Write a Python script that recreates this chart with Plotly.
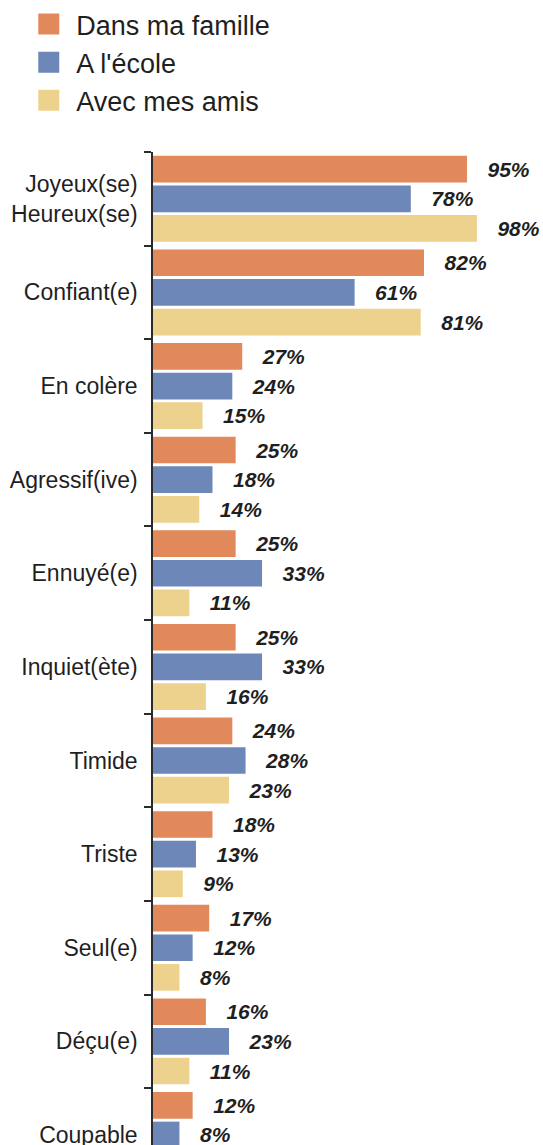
import plotly.graph_objects as go

categories = ["Joyeux(se)<br>Heureux(se)", "Confiant(e)", "En colère", "Agressif(ive)",
              "Ennuyé(e)", "Inquiet(ète)", "Timide", "Triste", "Seul(e)", "Déçu(e)", "Coupable"]
series_names = ["Dans ma famille", "A l'école", "Avec mes amis"]
famille = [95, 82, 27, 25, 25, 25, 24, 18, 17, 16, 12]
ecole = [78, 61, 24, 18, 33, 33, 28, 13, 12, 23, 8]
amis = [98, 81, 15, 14, 11, 16, 23, 9, 8, 11, None]
colors = ["#E2895C", "#6D87B8", "#EDD28E"]

W, H = 543, 1145
FONT = "Liberation Sans, Arial, sans-serif"
fig = go.Figure()
pad = "\u00a0" * 3
for name, vals, col in zip(series_names, [famille, ecole, amis], colors):
    fig.add_trace(go.Bar(
        y=categories, x=vals, orientation="h", name=name,
        marker=dict(color=col, line=dict(width=0)),
        text=[(pad + f"{v}%") if v is not None else "" for v in vals],
        textposition="outside", constraintext="none", cliponaxis=False,
        textfont=dict(family=FONT, size=21, color="#1f1f1f", style="italic", weight="bold"),
        showlegend=False, hoverinfo="skip",
    ))
for i, (name, col) in enumerate(zip(series_names, colors)):
    fig.add_trace(go.Scatter(
        x=[None], y=[None], mode="markers", name="\u00a0" + name,
        legendgroup=f"g{i}",
        marker=dict(symbol="square", size=16, color=col, line=dict(color=col, width=5)),
    ))

fig.update_layout(
    width=W, height=H,
    margin=dict(l=153, r=0, t=152, b=0, autoexpand=False),
    paper_bgcolor="white", plot_bgcolor="white",
    barmode="group", bargap=0.05, bargroupgap=0.1,
    showlegend=True,
    legend=dict(xref="container", yref="container", x=0.053, y=1,
                xanchor="left", yanchor="top", bgcolor="rgba(0,0,0,0)",
                font=dict(family=FONT, size=27, color="#1f1f1f"),
                tracegroupgap=0, itemclick=False),
    xaxis=dict(range=[0, 118], visible=False, showgrid=False, zeroline=False),
    yaxis=dict(type="category", range=[10.107, -0.5], autorange=False,
               showline=True, linecolor="#2a2a2a", linewidth=1.5,
               ticks="outside", tickson="boundaries", ticklen=7, tickwidth=1.5, tickcolor="#2a2a2a",
               ticklabelstandoff=9, automargin=False, showgrid=False,
               tickfont=dict(family=FONT, size=23, color="#1f1f1f")),
)
fig.write_html("out.html")
